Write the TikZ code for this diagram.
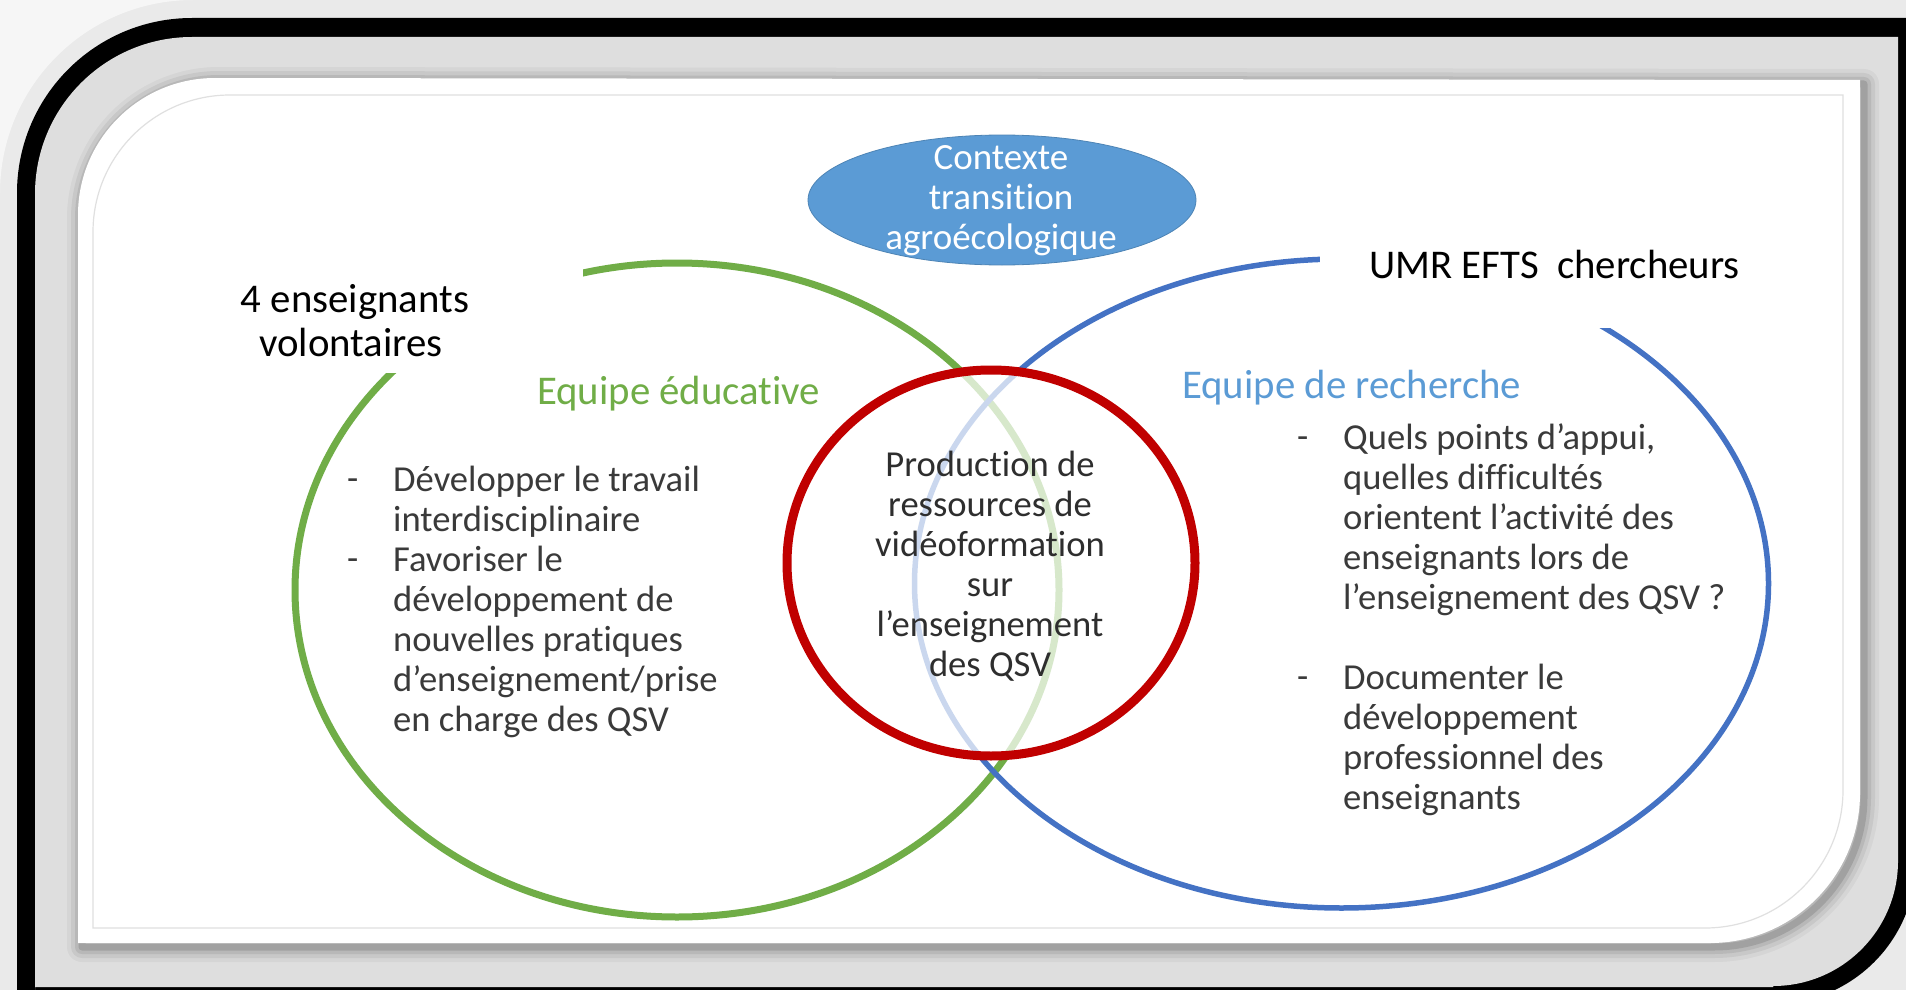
\documentclass[tikz,border=0pt]{standalone}
\usepackage{fontspec}
\setmainfont{Carlito}[Ligatures=NoCommon]
\usetikzlibrary{shapes.geometric}
\definecolor{grn}{HTML}{70AD47}
\definecolor{blu}{HTML}{4472C4}
\definecolor{lblu}{HTML}{5B9BD5}
\definecolor{redc}{HTML}{C00000}
\definecolor{txt}{HTML}{3A3A3A}
\definecolor{ctrtxt}{HTML}{2E2E2E}
\definecolor{bandgray}{HTML}{DEDEDE}
\definecolor{bggray}{HTML}{EAEAEA}
\newcommand\panelshape[1]{\path[#1] (78,943) -- (78,215) arc[start angle=180,end angle=270,radius=137] -- (1860,80) -- (1860,793) arc[start angle=0,end angle=90,radius=150] -- cycle;}
\begin{document}
\begin{tikzpicture}[x=1pt,y=-1pt,
  body/.style={font=\fontsize{36.6}{40}\selectfont, text=txt, inner sep=0pt, anchor=base west},
  ctr/.style={font=\fontsize{36.6}{40}\selectfont, text=ctrtxt, inner sep=0pt, anchor=base},
  ctxt/.style={font=\fontsize{37}{40}\selectfont, text=white, inner sep=0pt, anchor=base},
  big/.style={font=\fontsize{40.8}{40}\selectfont, text=black, inner sep=0pt},
  mask/.style={fill=white, draw=none}]
\useasboundingbox (0,0) rectangle (1906,990);
% background and frame
\fill[bggray] (0,0) rectangle (1906,990);
\fill[white, opacity=0.6] (0,0) -- (0,193) arc[start angle=180,end angle=270,radius=193] -- cycle;
\fill[black] (17,1010) -- (17,193) arc[start angle=180,end angle=270,radius=175] -- (1916,18) -- (1916,861) arc[start angle=0,end angle=90,radius=143] -- (17,1010) -- cycle;
\fill[bandgray] (35,1010) -- (35,194) arc[start angle=180,end angle=270,radius=157] -- (1898,37) -- (1898,861) arc[start angle=0,end angle=90,radius=125] -- (1773,987) -- (35,987) -- cycle;
% panel shadow
\begin{scope}[shift={(4,4)}]
\panelshape{draw=black, line width=30, opacity=0.04, line join=round}
\panelshape{draw=black, line width=22, opacity=0.06, line join=round}
\panelshape{draw=black, line width=14, opacity=0.08, line join=round}
\panelshape{draw=black, line width=7, opacity=0.12, line join=round}
\end{scope}
\panelshape{fill=white}
\draw[black!12, line width=1.2] (93,928) -- (93,232) arc[start angle=180,end angle=270,radius=137] -- (1843,95) -- (1843,790) arc[start angle=0,end angle=90,radius=138] -- cycle;
% sets
\draw[grn, line width=7] (677,590) ellipse[x radius=382, y radius=327];
\draw[blu, line width=5.5] (1341.5,583.5) ellipse[x radius=427, y radius=324.5];
\fill[mask] (225,235) rectangle (583,373);
\fill[mask] (1320,225) rectangle (1760,328);
\fill[white, opacity=0.72] (991,563) ellipse[x radius=204, y radius=193];
\draw[redc, line width=9] (991,563) ellipse[x radius=204, y radius=193];
% context ellipse
\node[ellipse, fill=lblu, draw=lblu!85!black, line width=0.8, minimum width=388, minimum height=130, inner sep=0] (ctx) at (1002,200) {};
\foreach \t [count=\i] in {Contexte, transition, agroécologique}
  \node[ctxt] (ctx\i) at (1001,{169+40*(\i-1)}) {\t};
% labels
\node[big, anchor=base] (vol1) at (355,312) {4 enseignants};
\node[big, anchor=base] (vol2) at (351,356) {volontaires};
\node[big, anchor=base west] (umr) at (1369,278) {UMR EFTS\ \ chercheurs};
\node[big, anchor=base west, text=grn] (edu) at (537,404) {Equipe éducative};
\node[big, anchor=base west, text=lblu] (rech) at (1182,398) {Equipe de recherche};
% left bullets
\node[body] (gd1) at (347,490) {-};
\node[body] (gd2) at (347,570) {-};
\foreach \t [count=\i] in {Développer le travail, interdisciplinaire, Favoriser le, développement de, nouvelles pratiques, d’enseignement/prise, en charge des QSV}
  \node[body] (gl\i) at (393,{491+40*(\i-1)}) {\t};
% right bullets
\node[body] (rd1) at (1297,448) {-};
\node[body] (rd2) at (1297,688) {-};
\foreach \t [count=\i] in {{Quels points d’appui,}, quelles difficultés, orientent l’activité des, enseignants lors de, l’enseignement des QSV ?}
  \node[body] (ra\i) at (1343,{449+40*(\i-1)}) {\t};
\foreach \t [count=\i] in {Documenter le, développement, professionnel des, enseignants}
  \node[body] (rb\i) at (1343,{689+40*(\i-1)}) {\t};
% centre
\foreach \t [count=\i] in {Production de, ressources de, vidéoformation, sur, l’enseignement, des QSV}
  \node[ctr] (c\i) at (990,{476+40*(\i-1)}) {\t};
\end{tikzpicture}
\end{document}
